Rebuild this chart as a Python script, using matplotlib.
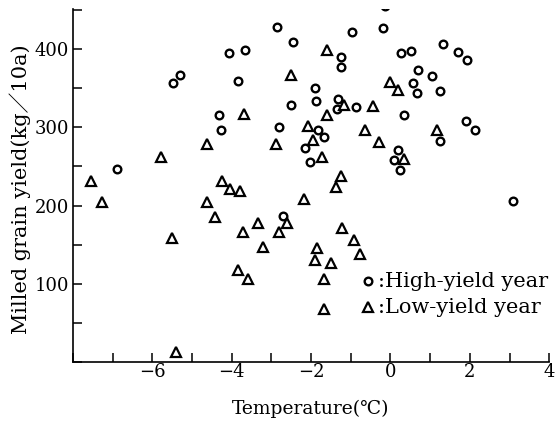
import matplotlib.pyplot as plt
from matplotlib.ticker import MultipleLocator

plt.rcParams['font.family'] = ['DejaVu Serif', 'Noto Sans CJK JP']

# 豊作年 (circles)
hi_temp = [-6.9, -5.48, -5.3, -0.13, -2.85, -0.18, -0.97, -2.45, -4.07, -3.67,
           -1.25, -1.25, -3.83, -1.9, -1.87, -1.32, -2.5, -1.35, -0.87, -4.33,
           -2.8, -1.83, -4.27, -1.68, -2.15, -2.03, 1.33, 0.27, 0.53, 1.7,
           1.93, 0.7, 1.05, 0.58, 0.68, 1.25, 0.33, 1.9, 2.13, 1.25,
           0.2, 0.1, 0.23, 3.08, -2.7]
hi_yield = [247, 356, 367, 455, 428, 427, 422, 409, 395, 399,
            390, 377, 359, 350, 334, 336, 328, 323, 326, 316,
            300, 297, 296, 288, 274, 256, 406, 395, 397, 396,
            386, 373, 366, 356, 344, 346, 315, 308, 296, 282,
            271, 258, 245, 206, 187]

# 凶作年 (triangles)
lo_temp = [-7.55, -7.28, -5.78, -5.5, -5.4, -1.6, -2.5, 0.0, -1.17, -0.43,
           -3.7, -1.6, -2.08, -1.95, -0.65, -4.63, -2.88, -0.3, -1.73, -1.25,
           -4.25, -1.38, -4.05, -3.78, -4.63, -2.18, 0.18, 1.18, 0.33, -2.6,
           -4.43, -3.35, -3.72, -2.8, -1.23, -0.93, -3.2, -1.85, -0.78, -1.9,
           -1.5, -3.85, -3.58, -1.68, -1.68]
lo_yield = [231, 205, 262, 159, 13, 399, 367, 358, 329, 327,
            317, 316, 302, 284, 297, 279, 278, 281, 262, 238,
            231, 223, 221, 218, 205, 208, 347, 296, 260, 178,
            185, 178, 166, 166, 171, 156, 147, 146, 138, 130,
            127, 118, 106, 106, 68]

x_ticks = [-6, -4, -2, 0, 2, 4]
x_labels = ['\u22126', '\u22124', '\u22122', '0', '2', '4']
y_ticks = [100, 200, 300, 400]
legend_labels = [':High-yield year', ':Low-yield year']

hi_style = dict(marker='o', ms=5.5, mfc='white', mec='black', mew=1.7, linestyle='none')
lo_style = dict(marker='^', ms=7, mfc='white', mec='black', mew=1.6, linestyle='none')

fig = plt.figure(figsize=(5.57, 4.28), dpi=100)
ax = fig.add_axes([0.131, 0.154, 0.855, 0.825])

ax.plot(hi_temp, hi_yield, **hi_style)
ax.plot(lo_temp, lo_yield, **lo_style)

ax.set_xlim(-8, 4)
ax.set_ylim(0, 451)
ax.spines['top'].set_visible(False)
ax.spines['right'].set_visible(False)
ax.spines['left'].set_linewidth(1.2)
ax.spines['bottom'].set_linewidth(1.2)

ax.xaxis.set_minor_locator(MultipleLocator(1))
ax.yaxis.set_minor_locator(MultipleLocator(50))
ax.set_xticks(x_ticks)
ax.set_xticklabels(x_labels)
ax.set_yticks(y_ticks)
ax.tick_params(which='both', direction='in', length=6.5, width=1.1, labelsize=13)
ax.tick_params(axis='x', pad=1)
ax.tick_params(axis='y', pad=3)

ax.set_xlabel('Temperature(\u2103)', fontsize=13.5, labelpad=13)
ax.set_ylabel('Milled grain yield(kg\uff0f10a)', fontsize=15)
ax.yaxis.set_label_coords(-0.088, 0.49)

# 凡例
ax.plot([0.62], [0.229], transform=ax.transAxes, clip_on=False, **hi_style)
ax.plot([0.62], [0.156], transform=ax.transAxes, clip_on=False, **lo_style)
ax.text(0.64, 0.229, legend_labels[0], transform=ax.transAxes, fontsize=15,
        va='center', ha='left')
ax.text(0.64, 0.156, legend_labels[1], transform=ax.transAxes, fontsize=15,
        va='center', ha='left')

plt.savefig('out.png', dpi=100)
